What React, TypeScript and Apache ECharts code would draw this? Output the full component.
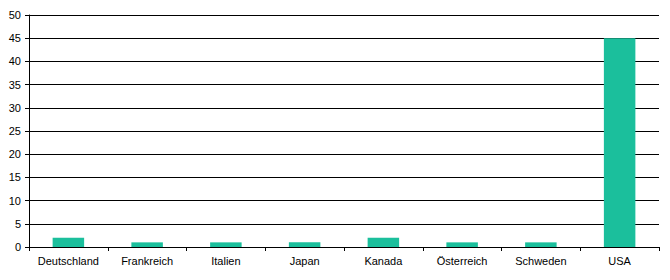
import React, { useEffect, useRef } from "react";
import * as echarts from "echarts";

const categories = ["Deutschland", "Frankreich", "Italien", "Japan", "Kanada", "Österreich", "Schweden", "USA"];
const values = [2, 1, 1, 1, 2, 1, 1, 45];

export default function App() {
  const ref = useRef<HTMLDivElement>(null);
  useEffect(() => {
    const chart = echarts.init(ref.current!, null, { renderer: "svg" });
    chart.setOption({
      animation: false,
      grid: { left: 29, top: 15, right: 11, bottom: 33, containLabel: false },
      xAxis: {
        type: "category",
        data: categories,
        axisLine: { lineStyle: { color: "#000", width: 1 } },
        axisTick: { show: true, alignWithLabel: false, length: 4, lineStyle: { color: "#000" } },
        axisLabel: { color: "#000", fontFamily: "Liberation Sans, Arial", fontSize: 11, margin: 8, interval: 0 },
      },
      yAxis: {
        type: "value",
        min: 0,
        max: 50,
        interval: 5,
        axisLine: { show: true, lineStyle: { color: "#000", width: 1 } },
        axisTick: { show: true, length: 4, lineStyle: { color: "#000" } },
        splitLine: { show: true, lineStyle: { color: "#000", width: 1 } },
        axisLabel: { color: "#000", fontFamily: "Liberation Sans, Arial", fontSize: 11, margin: 8 },
      },
      series: [
        {
          type: "bar",
          data: values,
          barWidth: "40%",
          itemStyle: { color: "#1BBF9C" },
        },
      ],
    });
    return () => chart.dispose();
  }, []);
  return <div ref={ref} style={{ position: "absolute", left: 0, top: 0, width: 670, height: 280 }} />;
}
